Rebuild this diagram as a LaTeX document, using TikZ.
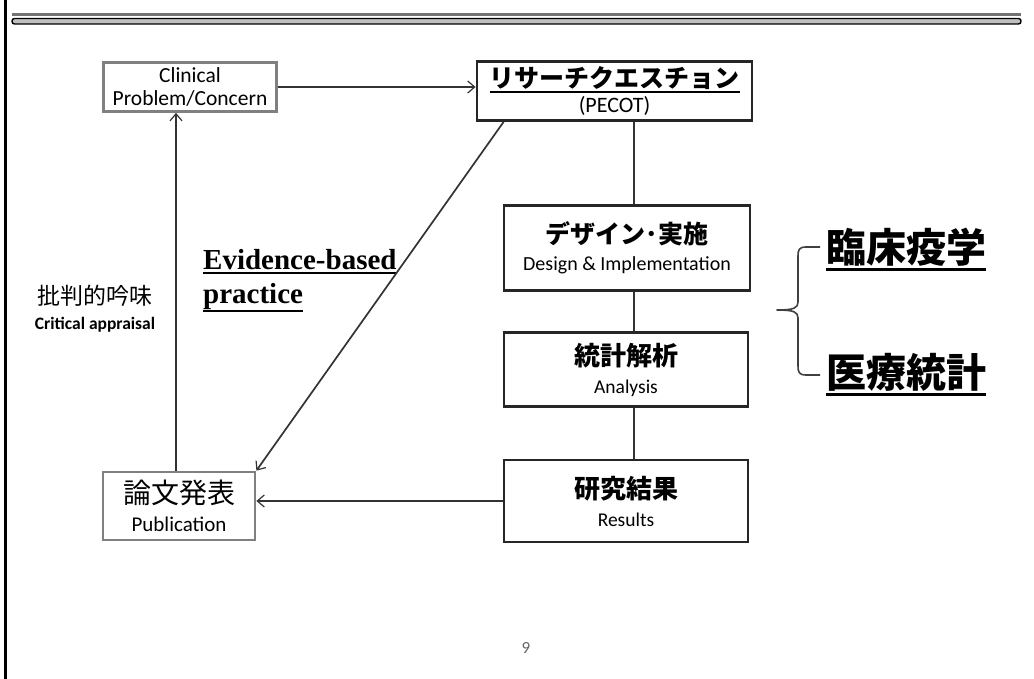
\documentclass[tikz,border=0pt]{standalone}
\usepackage{fontspec}
\setmainfont{Carlito}
\newfontfamily\jp{Noto Sans CJK JP}
\newfontfamily\tnr{Liberation Serif}
\usetikzlibrary{arrows.meta}
\newcommand\myul[3]{\setbox0\hbox{#3}\rlap{\rule[-#1]{\wd0}{#2}}\box0}
\begin{document}
\begin{tikzpicture}[x=1pt,y=-1pt,
  box/.style={draw, line width=2.8pt, fill=white, inner sep=0pt, align=center},
  lightbox/.style={box, draw=black!50},
  darkbox/.style={box, draw=black!85},
  conn/.style={draw=black!80, line width=1.4pt},
  arr/.style={conn, -{Straight Barb[length=7pt,width=12pt,line width=1.2pt]}},
  txt/.style={inner sep=0pt, align=center}]
\useasboundingbox (0,0) rectangle (1034,679);
\fill[white] (0,0) rectangle (1034,679);
% left border and top rule
\draw[line width=3pt, black] (5.5,0) -- (5.5,679);
\fill[black!55] (12,13) rectangle (1021,16.5);
\draw[black, line width=1.4pt, fill=black!25, rounded corners=2.5pt] (12,18.5) rectangle (1021,24);
% boxes
\node[lightbox, minimum width=173pt, minimum height=49pt, font=\fontsize{21.5}{23.5}\selectfont] (clin) at (190,87) {Clinical\\Problem/Concern};
\node[darkbox, minimum width=275pt, minimum height=59pt, font=\fontsize{22}{25}\selectfont] (rq) at (614.5,91) {{\jp\bfseries\fontsize{25}{25}\selectfont\myul{5.5pt}{1.7pt}{リサーチクエスチョン}}\\(PECOT)};
\node[darkbox, minimum width=246pt, minimum height=85pt, font=\fontsize{20}{27}\selectfont] (design) at (627,248) {{\jp\bfseries\fontsize{25}{25}\selectfont デザイン･実施}\\Design \& Implementation};
\node[darkbox, minimum width=244pt, minimum height=74pt, font=\fontsize{19.5}{28}\selectfont] (anal) at (626,369.5) {{\jp\bfseries\fontsize{26}{26}\selectfont 統計解析}\\Analysis};
\node[darkbox, minimum width=244pt, minimum height=82pt, font=\fontsize{19.5}{28}\selectfont] (res) at (626,501) {{\jp\bfseries\fontsize{26}{26}\selectfont 研究結果}\\Results};
\node[lightbox, minimum width=152pt, minimum height=68pt, font=\fontsize{21}{28}\selectfont] (pub) at (179,506) {{\jp\fontsize{28}{28}\selectfont 論文発表}\\Publication};
% free texts
\node[txt, font=\fontsize{17.5}{25}\selectfont] (crit) at (95,309) {{\jp\fontsize{23}{23}\selectfont 批判的吟味}\\\bfseries Critical appraisal};
\node[txt, anchor=base west, font=\tnr\bfseries\fontsize{29}{29}\selectfont] (ev1) at (203,270) {\myul{4pt}{2pt}{Evidence-based}};
\node[txt, anchor=base west, font=\tnr\bfseries\fontsize{29}{29}\selectfont] (ev2) at (203,304) {\myul{8pt}{2pt}{practice}};
\node[txt, anchor=base, font=\jp\bfseries\fontsize{40}{40}\selectfont] (epi) at (906,262) {\myul{8.5pt}{2.5pt}{臨床疫学}};
\node[txt, anchor=base, font=\jp\bfseries\fontsize{40}{40}\selectfont] (stat) at (906,387) {\myul{8.5pt}{2.5pt}{医療統計}};
\node[txt, font=\fontsize{17}{17}\selectfont, text=black!60] (page) at (526,648) {9};
% connectors
\coordinate (vx) at (634,0);
\draw[conn] (rq.south -| vx) -- (design.north -| vx);
\draw[conn] (design.south -| vx) -- (anal.north -| vx);
\draw[conn] (anal.south -| vx) -- (res.north -| vx);
\draw[arr] (clin.east) -- (clin.east -| rq.west);
\draw[arr, line width=1.7pt] ([xshift=28pt]rq.south west) -- (pub.north east);
\draw[arr] (res.west) -- (res.west -| pub.east);
\draw[arr] (pub.north -| 176,0) -- (clin.south -| 176,0);
% brace
\coordinate (bt) at (820,247);
\coordinate (bb) at (820,375);
\coordinate (tip) at (777,310);
\draw[black!75, line width=1.6pt, line join=round]
  (bt) -- (806,247) .. controls (799,247) and (798,250) .. (798,256)
  -- (798,302) .. controls (798,308) and (794,310) .. (tip)
  .. controls (794,310) and (798,312) .. (798,318)
  -- (798,366) .. controls (798,372) and (799,375) .. (806,375) -- (bb);
\end{tikzpicture}
\end{document}
